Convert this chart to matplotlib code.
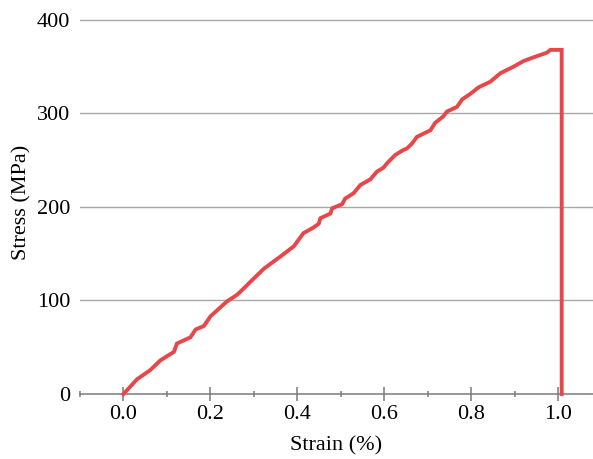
import numpy as np
import matplotlib.pyplot as plt

plt.rcParams['font.family'] = ['Liberation Serif', 'DejaVu Serif']

# 读图估计的应力-应变数据
strain = [0.000, 0.012, 0.031, 0.062, 0.085, 0.116, 0.123, 0.154, 0.166, 0.185,
          0.200, 0.238, 0.261, 0.277, 0.292, 0.323, 0.361, 0.392, 0.414, 0.437,
          0.449, 0.453, 0.476, 0.480, 0.503, 0.510, 0.529, 0.545, 0.568, 0.583,
          0.598, 0.606, 0.625, 0.644, 0.652, 0.664, 0.675, 0.706, 0.717, 0.736,
          0.744, 0.767, 0.779, 0.798, 0.817, 0.844, 0.867, 0.897, 0.920, 0.943,
          0.974, 0.982, 1.008, 1.008]
stress = [0, 6, 15.7, 25.7, 36, 45, 54, 60.6, 69, 72.7,
          83, 99, 106, 113, 120, 134, 147, 158, 172, 178,
          182, 188, 193, 198.6, 203, 209, 214.6, 223.5, 229.6, 237.8,
          242, 246.6, 255.6, 261, 262.5, 268, 275, 282, 290, 297,
          302, 307, 315, 321, 328, 334, 343, 350, 356, 360,
          365, 368, 368, 0]

y_ticks = [0, 100, 200, 300, 400]
x_ticks = [0.0, 0.2, 0.4, 0.6, 0.8, 1.0]
x_minor = [-0.1, 0.1, 0.3, 0.5, 0.7, 0.9]

fig = plt.figure(figsize=(5.93, 4.59), dpi=100)
ax = fig.add_axes([80 / 593, 65 / 459, 1 - 80 / 593, 383.4 / 459])

ax.plot(strain, stress, color='#e8474a', linewidth=2.8, solid_joinstyle='miter',
        clip_on=False, zorder=3)

ax.set_xlim(-0.1, 1.08)
ax.set_ylim(0, 410)

# 水平网格线
for v in y_ticks[1:]:
    ax.axhline(v, color='#a8a8a8', linewidth=1.0, zorder=1)

for side in ['top', 'right', 'left']:
    ax.spines[side].set_visible(False)
ax.spines['bottom'].set_color('#7a7a7a')
ax.spines['bottom'].set_linewidth(1.1)

ax.set_xticks(x_ticks)
ax.set_xticklabels([f'{v:.1f}' for v in x_ticks])
ax.set_xticks(x_minor, minor=True)
ax.tick_params(axis='x', which='major', direction='inout', length=9.5, width=1.1,
               color='#7a7a7a', labelsize=16, pad=3)
ax.tick_params(axis='x', which='minor', direction='inout', length=5, width=1.1,
               color='#7a7a7a')

ax.set_yticks(y_ticks)
ax.tick_params(axis='y', length=0, labelsize=16, pad=7)

ax.set_xlabel('Strain (%)', fontsize=16, labelpad=9)
ax.set_ylabel('Stress (MPa)', fontsize=16, labelpad=4)

plt.savefig('out.png', dpi=100)
